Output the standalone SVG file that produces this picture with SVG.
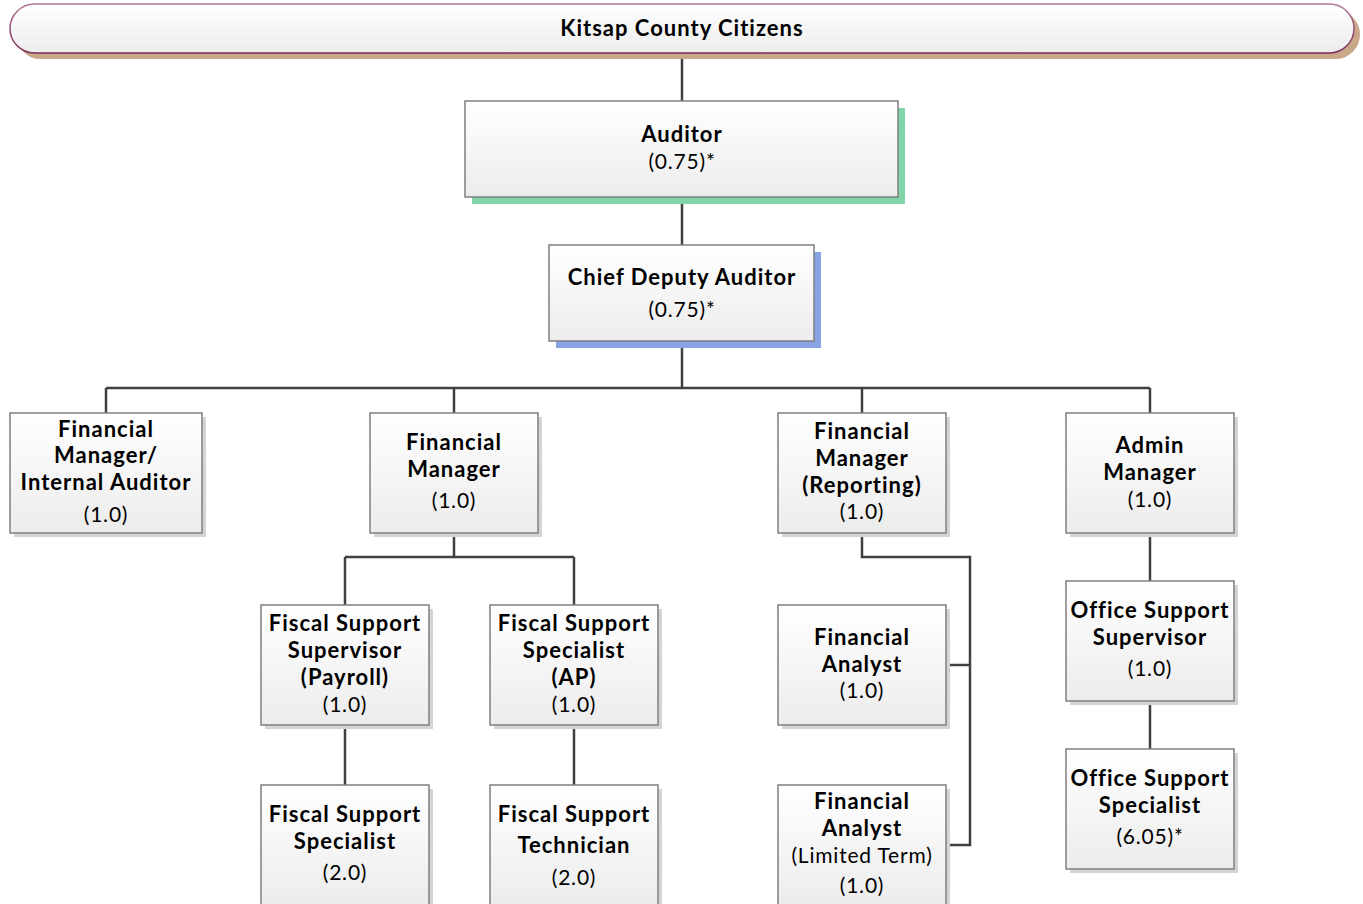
<svg xmlns="http://www.w3.org/2000/svg" width="1363" height="904" viewBox="0 0 1363 904">
<defs>
<linearGradient id="g" x1="0" y1="0" x2="0" y2="1">
<stop offset="0" stop-color="#ffffff"/>
<stop offset="1" stop-color="#ececec"/>
</linearGradient>
<linearGradient id="pillStroke" x1="0" y1="0" x2="0" y2="1">
<stop offset="0" stop-color="#b07898"/>
<stop offset="1" stop-color="#7a2a5a"/>
</linearGradient>
</defs>
<style>
.box{fill:url(#g);stroke:#7f7f7f;stroke-width:1.5}
.sh{fill:#d4d4d4}
.b{font-family:Lato,"Liberation Sans",sans-serif;font-weight:bold;font-size:22px;letter-spacing:1px;fill:#000;text-anchor:middle}
.n{font-family:Lato,"Liberation Sans",sans-serif;font-size:21px;letter-spacing:0.8px;fill:#000;text-anchor:middle}
.c{fill:none;stroke:#404040;stroke-width:2.5}
</style>
<rect width="1363" height="904" fill="#ffffff"/>
<g id="connectors">
<path class="c" d="M682 52V101M682 197V245M682 341V388M106 388H1150M106 388V413M454 388V413M862 388V413M1150 388V413"/>
<path class="c" d="M454 533V557M345 557H574M345 557V605M574 557V605M345 725V785M574 725V785"/>
<path class="c" d="M862 533V557H970V845H946M946 665H970"/>
<path class="c" d="M1150 533V581M1150 701V749"/>
</g>
<g id="citizens">
<rect x="16" y="10" width="1344" height="49" rx="24.5" fill="#c9a788"/>
<rect x="10" y="4" width="1344" height="49" rx="24.5" fill="url(#g)" stroke="url(#pillStroke)" stroke-width="1.5"/>
<text class="b" x="682" y="36">Kitsap County Citizens</text>
</g>
<g id="auditor">
<rect x="472" y="108" width="433" height="96" fill="#80d6a8"/>
<rect class="box" x="465" y="101" width="433" height="96"/>
<text class="b" x="682" y="142">Auditor</text>
<text class="n" x="682" y="169">(0.75)*</text>
</g>
<g id="chief-deputy">
<rect x="556" y="252" width="265" height="96" fill="#88a2e6"/>
<rect class="box" x="549" y="245" width="265" height="96"/>
<text class="b" x="682" y="285">Chief Deputy Auditor</text>
<text class="n" x="682" y="317">(0.75)*</text>
</g>
<g id="fm-internal-auditor">
<rect class="sh" x="14" y="417" width="192" height="120"/>
<rect class="box" x="10" y="413" width="192" height="120"/>
<text class="b" x="106" y="437">Financial</text>
<text class="b" x="106" y="463">Manager/</text>
<text class="b" x="106" y="490">Internal Auditor</text>
<text class="n" x="106" y="522">(1.0)</text>
</g>
<g id="financial-manager">
<rect class="sh" x="374" y="417" width="168" height="120"/>
<rect class="box" x="370" y="413" width="168" height="120"/>
<text class="b" x="454" y="450">Financial</text>
<text class="b" x="454" y="477">Manager</text>
<text class="n" x="454" y="508">(1.0)</text>
</g>
<g id="fm-reporting">
<rect class="sh" x="782" y="417" width="168" height="120"/>
<rect class="box" x="778" y="413" width="168" height="120"/>
<text class="b" x="862" y="439">Financial</text>
<text class="b" x="862" y="466">Manager</text>
<text class="b" x="862" y="493">(Reporting)</text>
<text class="n" x="862" y="519">(1.0)</text>
</g>
<g id="admin-manager">
<rect class="sh" x="1070" y="417" width="168" height="120"/>
<rect class="box" x="1066" y="413" width="168" height="120"/>
<text class="b" x="1150" y="453">Admin</text>
<text class="b" x="1150" y="480">Manager</text>
<text class="n" x="1150" y="507">(1.0)</text>
</g>
<g id="fs-supervisor-payroll">
<rect class="sh" x="265" y="609" width="168" height="120"/>
<rect class="box" x="261" y="605" width="168" height="120"/>
<text class="b" x="345" y="631">Fiscal Support</text>
<text class="b" x="345" y="658">Supervisor</text>
<text class="b" x="345" y="685">(Payroll)</text>
<text class="n" x="345" y="712">(1.0)</text>
</g>
<g id="fs-specialist-ap">
<rect class="sh" x="494" y="609" width="168" height="120"/>
<rect class="box" x="490" y="605" width="168" height="120"/>
<text class="b" x="574" y="631">Fiscal Support</text>
<text class="b" x="574" y="658">Specialist</text>
<text class="b" x="574" y="685">(AP)</text>
<text class="n" x="574" y="712">(1.0)</text>
</g>
<g id="fs-specialist">
<rect class="sh" x="265" y="789" width="168" height="120"/>
<rect class="box" x="261" y="785" width="168" height="120"/>
<text class="b" x="345" y="822">Fiscal Support</text>
<text class="b" x="345" y="849">Specialist</text>
<text class="n" x="345" y="880">(2.0)</text>
</g>
<g id="fs-technician">
<rect class="sh" x="494" y="789" width="168" height="120"/>
<rect class="box" x="490" y="785" width="168" height="120"/>
<text class="b" x="574" y="822">Fiscal Support</text>
<text class="b" x="574" y="853">Technician</text>
<text class="n" x="574" y="885">(2.0)</text>
</g>
<g id="financial-analyst">
<rect class="sh" x="782" y="609" width="168" height="120"/>
<rect class="box" x="778" y="605" width="168" height="120"/>
<text class="b" x="862" y="645">Financial</text>
<text class="b" x="862" y="672">Analyst</text>
<text class="n" x="862" y="698">(1.0)</text>
</g>
<g id="financial-analyst-lt">
<rect class="sh" x="782" y="789" width="168" height="120"/>
<rect class="box" x="778" y="785" width="168" height="120"/>
<text class="b" x="862" y="809">Financial</text>
<text class="b" x="862" y="836">Analyst</text>
<text class="n" x="862" y="863">(Limited Term)</text>
<text class="n" x="862" y="893">(1.0)</text>
</g>
<g id="office-support-supervisor">
<rect class="sh" x="1070" y="585" width="168" height="120"/>
<rect class="box" x="1066" y="581" width="168" height="120"/>
<text class="b" x="1150" y="618">Office Support</text>
<text class="b" x="1150" y="645">Supervisor</text>
<text class="n" x="1150" y="676">(1.0)</text>
</g>
<g id="office-support-specialist">
<rect class="sh" x="1070" y="753" width="168" height="120"/>
<rect class="box" x="1066" y="749" width="168" height="120"/>
<text class="b" x="1150" y="786">Office Support</text>
<text class="b" x="1150" y="813">Specialist</text>
<text class="n" x="1150" y="844">(6.05)*</text>
</g>
</svg>
